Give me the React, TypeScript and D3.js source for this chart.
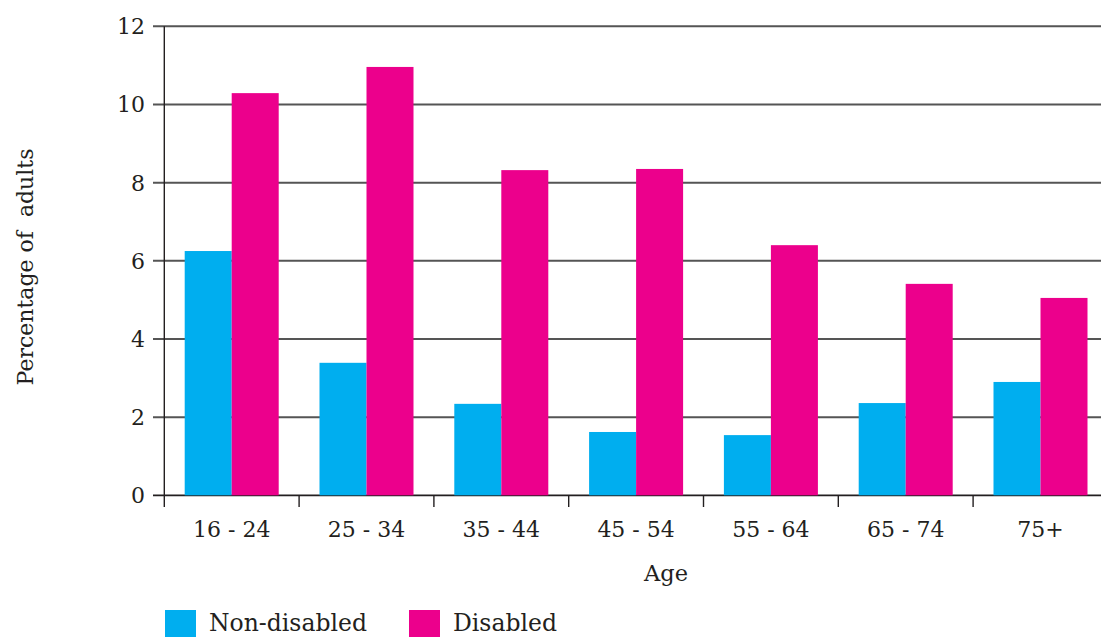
import React from "react";
import * as d3 from "d3";

const categories = ["16 - 24", "25 - 34", "35 - 44", "45 - 54", "55 - 64", "65 - 74", "75+"];
const seriesNames = ["Non-disabled", "Disabled"];
const nonDisabled = [6.25, 3.39, 2.34, 1.62, 1.54, 2.36, 2.9];
const disabled = [10.29, 10.96, 8.32, 8.35, 6.4, 5.41, 5.05];
const yTicks = [0, 2, 4, 6, 8, 10, 12];
const colors = ["#00AEEF", "#EC008C"];

const W = 1101;
const H = 637;
const FONT = "'DejaVu Serif', serif";
const TEXT = "#231f20";

export default function App() {
  const left = 164.3;
  const step = 134.8;
  const x = d3.scaleBand<string>().domain(categories).range([left, left + step * categories.length]).padding(0);
  const xi = d3.scaleBand<string>().domain(seriesNames).range([0, x.bandwidth()]).paddingInner(0).paddingOuter(0.434);
  const y = d3.scaleLinear().domain([0, 12]).range([495.3, 26.3]);
  const values = [nonDisabled, disabled];

  return (
    <svg width={W} height={H} style={{ position: "absolute", left: 0, top: 0, background: "#fff" }} fontFamily={FONT}>
      {/* gridlines + y ticks */}
      {yTicks.map((t) => (
        <g key={t}>
          <line x1={153} x2={W} y1={y(t)} y2={y(t)} stroke={t === 0 ? "#231f20" : "#555"} strokeWidth={t === 0 ? 1.7 : 2} />
          <text x={145} y={y(t)} dy="0.36em" textAnchor="end" fontSize={22} fill={TEXT}>
            {t}
          </text>
        </g>
      ))}
      {/* bars */}
      {categories.map((c, i) => (
        <g key={c} transform={`translate(${x(c)},0)`}>
          {seriesNames.map((s, j) => (
            <rect
              key={s}
              x={xi(s)}
              width={xi.bandwidth()}
              y={y(values[j][i])}
              height={y(0) - y(values[j][i])}
              fill={colors[j]}
            />
          ))}
        </g>
      ))}
      {/* y axis line */}
      <line x1={left} x2={left} y1={y(12)} y2={507} stroke="#231f20" strokeWidth={1.4} />
      {/* x ticks */}
      {categories.map((c, i) => (
        <g key={c}>
          {i > 0 && <line x1={x(c)} x2={x(c)} y1={y(0)} y2={507} stroke="#231f20" strokeWidth={1.4} />}
          <text x={(x(c) as number) + x.bandwidth() / 2} y={537} textAnchor="middle" fontSize={22} fill={TEXT}>
            {c}
          </text>
        </g>
      ))}
      {/* axis titles */}
      <text x={666} y={581} textAnchor="middle" fontSize={22.5} fill={TEXT}>
        Age
      </text>
      <text transform="translate(33,267) rotate(-90)" textAnchor="middle" fontSize={22} fill={TEXT} style={{ whiteSpace: "pre" }}>
        {"Percentage of  adults"}
      </text>
      {/* legend */}
      <rect x={165} y={610} width={31} height={27} fill={colors[0]} />
      <text x={209} y={631} fontSize={23.5} fill={TEXT}>
        {seriesNames[0]}
      </text>
      <rect x={409} y={610} width={31} height={27} fill={colors[1]} />
      <text x={453} y={631} fontSize={23.5} fill={TEXT}>
        {seriesNames[1]}
      </text>
    </svg>
  );
}
